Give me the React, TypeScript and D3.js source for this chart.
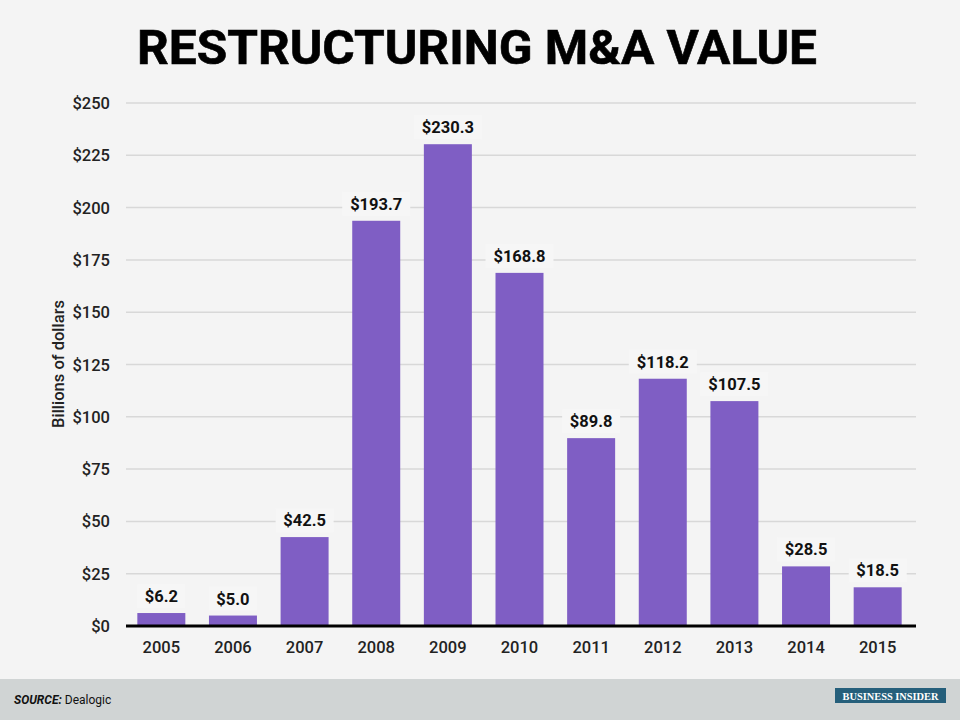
import React, { useEffect, useRef } from "react";
import * as d3 from "d3";

const years = ["2005", "2006", "2007", "2008", "2009", "2010", "2011", "2012", "2013", "2014", "2015"];
const values = [6.2, 5.0, 42.5, 193.7, 230.3, 168.8, 89.8, 118.2, 107.5, 28.5, 18.5];
const yTicks = [0, 25, 50, 75, 100, 125, 150, 175, 200, 225, 250];

const W = 960;
const H = 720;

const App: React.FC = () => {
  const svgRef = useRef<SVGSVGElement | null>(null);

  useEffect(() => {
    if (!svgRef.current) return;
    const svg = d3.select(svgRef.current);
    svg.selectAll("*").remove();

    const font = "Roboto, 'Noto Sans', sans-serif";

    // background
    svg.append("rect").attr("width", W).attr("height", H).attr("fill", "#f4f4f4");

    // title
    svg
      .append("text")
      .attr("x", 477)
      .attr("y", 64)
      .attr("text-anchor", "middle")
      .attr("font-family", font)
      .attr("font-weight", 700)
      .attr("font-size", 48)
      .attr("textLength", 680)
      .attr("lengthAdjust", "spacingAndGlyphs")
      .attr("fill", "#000")
      .attr("stroke", "#000")
      .attr("stroke-width", 0.6)
      .text("RESTRUCTURING M&A VALUE");

    const x = d3.scaleBand<string>().domain(years).range([123, 916]).paddingInner(0.33).paddingOuter(0.2);
    const y = d3.scaleLinear().domain([0, 250]).range([626, 103]);

    // grid + y tick labels
    const grid = svg.append("g");
    yTicks.forEach((t) => {
      if (t > 0) {
        grid
          .append("line")
          .attr("x1", 126)
          .attr("x2", 916)
          .attr("y1", y(t))
          .attr("y2", y(t))
          .attr("stroke", "#d8d8d8")
          .attr("stroke-width", 1.5);
      }
      grid
        .append("text")
        .attr("x", 110)
        .attr("y", y(t) + 6)
        .attr("text-anchor", "end")
        .attr("font-family", font)
        .attr("font-weight", 500)
        .attr("font-size", 16.5)
        .attr("fill", "#222")
        .text(`$${t}`);
    });

    // y axis title
    svg
      .append("text")
      .attr("transform", `translate(64,364) rotate(-90)`)
      .attr("text-anchor", "middle")
      .attr("font-family", font)
      .attr("font-weight", 500)
      .attr("font-size", 16.5)
      .attr("fill", "#222")
      .text("Billions of dollars");

    // bars
    svg
      .append("g")
      .selectAll("rect")
      .data(values)
      .enter()
      .append("rect")
      .attr("x", (_, i) => x(years[i])!)
      .attr("y", (d) => y(d))
      .attr("width", x.bandwidth())
      .attr("height", (d) => y(0) - y(d))
      .attr("fill", "#7f5ec4");

    // value labels with backing box
    const labels = svg.append("g");
    values.forEach((v, i) => {
      const cx = x(years[i])! + x.bandwidth() / 2;
      const by = y(v) - 11;
      const txt = `$${v.toFixed(1)}`;
      const w = txt.length * 10 + 8;
      labels
        .append("rect")
        .attr("x", cx - w / 2)
        .attr("y", by - 18)
        .attr("width", w)
        .attr("height", 24)
        .attr("fill", "#f6f6f6");
      labels
        .append("text")
        .attr("x", cx)
        .attr("y", by)
        .attr("text-anchor", "middle")
        .attr("font-family", font)
        .attr("font-weight", 700)
        .attr("font-size", 16.5)
        .attr("fill", "#111")
        .text(txt);
    });

    // baseline
    svg
      .append("line")
      .attr("x1", 126)
      .attr("x2", 916)
      .attr("y1", y(0))
      .attr("y2", y(0))
      .attr("stroke", "#000")
      .attr("stroke-width", 3);

    // x labels
    svg
      .append("g")
      .selectAll("text")
      .data(years)
      .enter()
      .append("text")
      .attr("x", (d) => x(d)! + x.bandwidth() / 2)
      .attr("y", 653)
      .attr("text-anchor", "middle")
      .attr("font-family", font)
      .attr("font-weight", 500)
      .attr("font-size", 16.5)
      .attr("fill", "#222")
      .text((d) => d);

    // footer
    svg.append("rect").attr("x", 0).attr("y", 679).attr("width", W).attr("height", 41).attr("fill", "#d0d4d4");
    const src = svg
      .append("text")
      .attr("x", 14)
      .attr("y", 704)
      .attr("font-family", font)
      .attr("font-size", 12)
      .attr("fill", "#111");
    src.append("tspan").attr("font-weight", 700).attr("font-style", "italic").text("SOURCE:");
    src.append("tspan").text(" Dealogic");

    svg.append("rect").attr("x", 835).attr("y", 688).attr("width", 111).attr("height", 15).attr("fill", "#255f7b");
    svg
      .append("text")
      .attr("x", 890.5)
      .attr("y", 700)
      .attr("text-anchor", "middle")
      .attr("font-family", "'Liberation Serif', 'DejaVu Serif', serif")
      .attr("font-weight", 700)
      .attr("font-size", 10)
      .attr("textLength", 96)
      .attr("lengthAdjust", "spacingAndGlyphs")
      .attr("fill", "#fff")
      .text("BUSINESS INSIDER");
  }, []);

  return <svg ref={svgRef} width={W} height={H} style={{ position: "absolute", left: 0, top: 0 }} />;
};

export default App;
